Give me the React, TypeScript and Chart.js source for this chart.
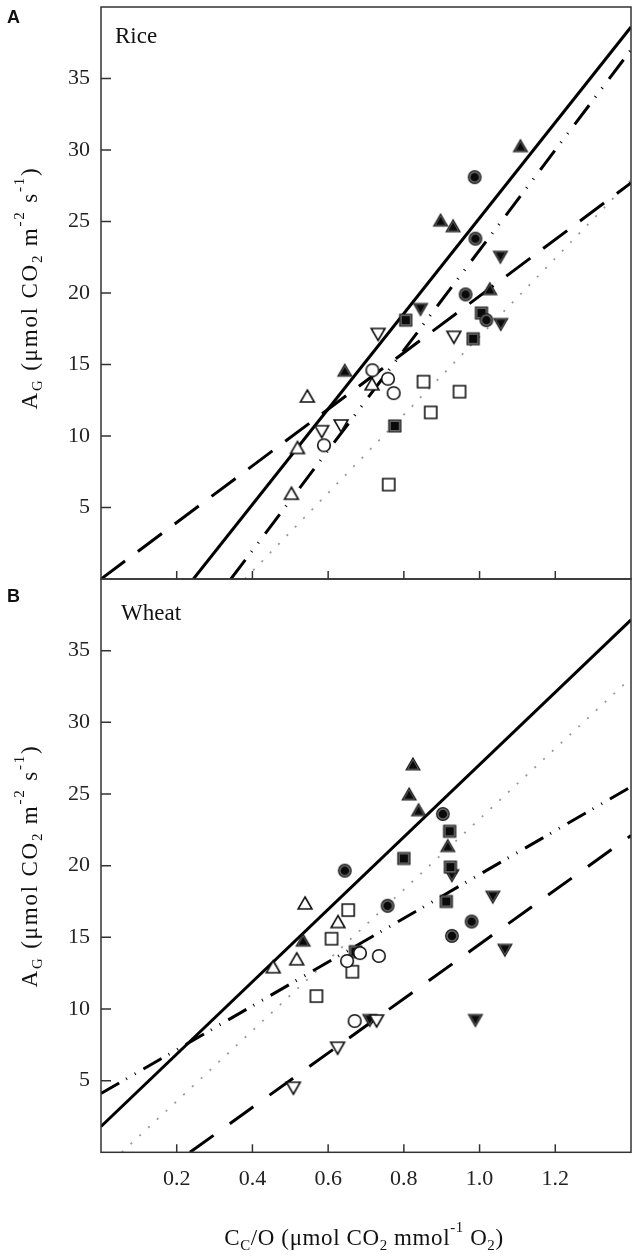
import React, { useEffect, useRef } from 'react';
import { Chart, registerables } from 'chart.js';

Chart.register(...registerables);

type P = [number, number];

// ---- axis ticks ----
const xTicks = [0.2, 0.4, 0.6, 0.8, 1.0, 1.2];
const yTicks = [5, 10, 15, 20, 25, 30, 35];

// ---- Rice (panel A) ----
const riceOpenUp: P[] = [[0.545, 12.8], [0.519, 9.2], [0.503, 6.0], [0.716, 13.65]];
const riceFilledUp: P[] = [[1.108, 30.3], [0.897, 25.1], [0.93, 24.7], [1.027, 20.3], [0.644, 14.6]];
const riceOpenCircle: P[] = [[0.717, 14.6], [0.758, 14.0], [0.773, 13.0], [0.589, 9.35]];
const riceFilledCircle: P[] = [[0.987, 28.1], [0.989, 23.8], [0.963, 19.9], [1.018, 18.1]];
const riceOpenSquare: P[] = [[0.852, 13.8], [0.947, 13.1], [0.871, 11.65], [0.76, 6.6]];
const riceFilledSquare: P[] = [[0.805, 18.1], [1.005, 18.6], [0.983, 16.8], [0.776, 10.7]];
const riceOpenDown: P[] = [[0.732, 17.1], [0.932, 16.9], [0.583, 10.3], [0.634, 10.7]];
const riceFilledDown: P[] = [[0.844, 18.85], [1.055, 22.5], [1.056, 17.8]];

const riceSolid: P[] = [[0.244, 0], [1.4, 38.6]];
const riceDashDot: P[] = [[0.343, 0], [1.4, 37.0]];
const riceLongDash: P[] = [[0, 0], [1.4, 27.7]];
const riceDotted: P[] = [[0.38, 0], [1.4, 27.9]];

// ---- Wheat (panel B) ----
const wheatOpenUp: P[] = [[0.539, 17.4], [0.626, 16.1], [0.517, 13.5], [0.455, 12.95]];
const wheatFilledUp: P[] = [[0.824, 27.1], [0.814, 25.0], [0.839, 23.9], [0.916, 21.4], [0.534, 14.8]];
const wheatOpenCircle: P[] = [[0.65, 13.35], [0.684, 13.9], [0.734, 13.7], [0.67, 9.16]];
const wheatFilledCircle: P[] = [[0.903, 23.6], [0.644, 19.65], [0.757, 17.2], [0.979, 16.1], [0.927, 15.1]];
const wheatOpenSquare: P[] = [[0.653, 16.9], [0.609, 14.9], [0.664, 12.6], [0.569, 10.9]];
const wheatFilledSquare: P[] = [[0.921, 22.4], [0.8, 20.5], [0.923, 19.9], [0.912, 17.5], [0.672, 14.0]];
const wheatOpenDown: P[] = [[0.508, 4.47], [0.625, 7.26], [0.728, 9.16]];
const wheatFilledDown: P[] = [[0.927, 19.3], [1.035, 17.8], [1.067, 14.1], [0.71, 9.2], [0.989, 9.2]];

const wheatSolid: P[] = [[0, 1.8], [1.4, 37.15]];
const wheatDashDot: P[] = [[0, 4.1], [1.4, 25.5]];
const wheatLongDash: P[] = [[0.235, 0], [1.4, 22.1]];
const wheatDotted: P[] = [[0.055, 0], [1.4, 33.1]];

const SERIF = '"Liberation Serif", "Times New Roman", serif';

type Shape = 'up' | 'down' | 'circle' | 'square';

function marker(shape: Shape, filled: boolean): HTMLCanvasElement {
  const S = 18;
  const c = document.createElement('canvas');
  c.width = S;
  c.height = S;
  const g = c.getContext('2d')!;
  const m = S / 2;
  const path = (k: number) => {
    g.beginPath();
    if (shape === 'circle') {
      g.arc(m, m, 6.3 * k, 0, Math.PI * 2);
    } else if (shape === 'square') {
      g.rect(m - 6 * k, m - 6 * k, 12 * k, 12 * k);
    } else {
      const s = shape === 'up' ? 1 : -1;
      const cy = m + 2 * s;
      g.moveTo(m, cy - 8 * k * s);
      g.lineTo(m + 6.9 * k, cy + 4 * k * s);
      g.lineTo(m - 6.9 * k, cy + 4 * k * s);
      g.closePath();
    }
  };
  if (filled) {
    path(1);
    g.fillStyle = '#6e6e6e';
    g.fill();
    g.lineWidth = 1.2;
    g.strokeStyle = '#1a1a1a';
    g.stroke();
    path(0.68);
    g.fillStyle = '#0a0a0a';
    g.fill();
  } else {
    path(1);
    g.fillStyle = '#fff';
    g.fill();
    g.lineWidth = 1.6;
    g.strokeStyle = '#111';
    g.stroke();
  }
  return c;
}

const toXY = (arr: P[]) => arr.map(([x, y]) => ({ x, y }));

function pointSet(arr: P[], shape: Shape, filled: boolean) {
  return {
    data: toXY(arr),
    pointStyle: marker(shape, filled),
    pointRadius: 6,
    pointHoverRadius: 6,
    showLine: false,
    order: 0,
  };
}

function lineSet(arr: P[], dash: number[], color = '#000', width = 3) {
  return {
    data: toXY(arr),
    showLine: true,
    borderColor: color,
    borderWidth: width,
    borderDash: dash,
    borderCapStyle: 'butt',
    pointRadius: 0,
    pointHoverRadius: 0,
    order: 1,
  };
}

const framePlugin = {
  id: 'frame',
  afterDatasetsDraw(chart: any) {
    const { ctx, chartArea: a, scales } = chart;
    ctx.save();
    ctx.strokeStyle = '#333';
    ctx.lineWidth = 1.5;
    ctx.strokeRect(a.left, a.top, a.right - a.left, a.bottom - a.top);
    ctx.beginPath();
    xTicks.forEach((v) => {
      const px = scales.x.getPixelForValue(v);
      ctx.moveTo(px, a.bottom);
      ctx.lineTo(px, a.bottom - 8);
    });
    yTicks.forEach((v) => {
      const py = scales.y.getPixelForValue(v);
      ctx.moveTo(a.left, py);
      ctx.lineTo(a.left + 10, py);
    });
    ctx.stroke();
    ctx.restore();
  },
};

function buildConfig(datasets: any[], padTop: number, xHeight: number, showXLabels: boolean): any {
  return {
    type: 'scatter',
    data: { datasets },
    options: {
      responsive: false,
      animation: false,
      devicePixelRatio: 1,
      events: [],
      layout: { padding: { top: padTop, right: 6, bottom: 0, left: 0 } },
      plugins: { legend: { display: false }, tooltip: { enabled: false } },
      scales: {
        x: {
          type: 'linear',
          min: 0,
          max: 1.4,
          grid: { display: false, drawTicks: false, tickLength: 0 },
          border: { display: false },
          ticks: {
            display: showXLabels,
            padding: 14,
            autoSkip: false,
            maxRotation: 0,
            color: '#222',
            font: { family: SERIF, size: 22 },
            callback: (v: any) => Number(v).toFixed(1),
          },
          afterBuildTicks: (s: any) => {
            s.ticks = xTicks.map((v) => ({ value: v }));
          },
          afterFit: (s: any) => {
            s.height = xHeight;
            s.paddingLeft = 0;
            s.paddingRight = 0;
            s.paddingTop = 0;
            s.paddingBottom = 0;
          },
        },
        y: {
          type: 'linear',
          min: 0,
          max: 40,
          grid: { display: false, drawTicks: false, tickLength: 0 },
          border: { display: false },
          ticks: {
            padding: 11,
            color: '#222',
            font: { family: SERIF, size: 22 },
            callback: (v: any) => String(v),
          },
          afterBuildTicks: (s: any) => {
            s.ticks = yTicks.map((v) => ({ value: v }));
          },
          afterFit: (s: any) => {
            s.width = 101;
            s.paddingLeft = 0;
            s.paddingRight = 0;
            s.paddingTop = 0;
            s.paddingBottom = 0;
          },
        },
      },
    },
    plugins: [framePlugin],
  };
}

const Sub = ({ children }: { children: React.ReactNode }) => (
  <span style={{ fontSize: '0.65em', position: 'relative', top: '0.35em' }}>{children}</span>
);
const Sup = ({ children }: { children: React.ReactNode }) => (
  <span style={{ fontSize: '0.65em', position: 'relative', top: '-0.85em' }}>{children}</span>
);

const YTitle = ({ cy }: { cy: number }) => (
  <div
    style={{
      position: 'absolute',
      left: 29,
      top: cy,
      transform: 'translate(-50%, -50%) rotate(-90deg)',
      fontFamily: SERIF,
      fontSize: 23,
      lineHeight: 1,
      whiteSpace: 'nowrap',
      letterSpacing: 1.8,
      color: '#111',
    }}
  >
    A<Sub>G</Sub> (μmol CO<Sub>2</Sub> m<Sup>-2</Sup> s<Sup>-1</Sup>)
  </div>
);

export default function App() {
  const r1 = useRef<HTMLCanvasElement>(null);
  const r2 = useRef<HTMLCanvasElement>(null);

  useEffect(() => {
    const riceSets = [
      pointSet(riceOpenUp, 'up', false),
      pointSet(riceFilledUp, 'up', true),
      pointSet(riceOpenCircle, 'circle', false),
      pointSet(riceFilledCircle, 'circle', true),
      pointSet(riceOpenSquare, 'square', false),
      pointSet(riceFilledSquare, 'square', true),
      pointSet(riceOpenDown, 'down', false),
      pointSet(riceFilledDown, 'down', true),
      lineSet(riceSolid, []),
      lineSet(riceDashDot, [24, 10, 1, 10, 1, 11]),
      lineSet(riceLongDash, [30, 16]),
      lineSet(riceDotted, [2, 10], '#9a9a9a', 1.8),
    ];
    const wheatSets = [
      pointSet(wheatOpenUp, 'up', false),
      pointSet(wheatFilledUp, 'up', true),
      pointSet(wheatOpenCircle, 'circle', false),
      pointSet(wheatFilledCircle, 'circle', true),
      pointSet(wheatOpenSquare, 'square', false),
      pointSet(wheatFilledSquare, 'square', true),
      pointSet(wheatOpenDown, 'down', false),
      pointSet(wheatFilledDown, 'down', true),
      lineSet(wheatSolid, []),
      lineSet(wheatDashDot, [21, 8, 1, 9, 1, 9]),
      lineSet(wheatLongDash, [29, 20]),
      lineSet(wheatDotted, [2, 10], '#9a9a9a', 1.8),
    ];
    const c1 = new Chart(r1.current!, buildConfig(riceSets, 5, 11, false));
    const c2 = new Chart(r2.current!, buildConfig(wheatSets, 9, 107.7, true));
    return () => {
      c1.destroy();
      c2.destroy();
    };
  }, []);

  const label = (text: string, left: number, baseline: number, size: number, bold = false, sans = false) => (
    <div
      style={{
        position: 'absolute',
        left,
        top: baseline - (sans ? 0.8465 : 0.8375) * size,
        fontFamily: sans ? '"Liberation Sans", Arial, sans-serif' : SERIF,
        fontWeight: bold ? 'bold' : 'normal',
        fontSize: size,
        lineHeight: 1,
        whiteSpace: 'nowrap',
        color: '#111',
      }}
    >
      {text}
    </div>
  );

  return (
    <div style={{ position: 'absolute', left: 0, top: 0, width: 638, height: 1260, background: '#fff', overflow: 'hidden' }}>
      <canvas ref={r1} width={638} height={590} style={{ position: 'absolute', left: 0, top: 0, width: 638, height: 590 }} />
      <canvas ref={r2} width={638} height={690} style={{ position: 'absolute', left: 0, top: 570, width: 638, height: 690 }} />
      {label('A', 7, 23, 18, true, true)}
      {label('B', 7, 602, 18, true, true)}
      {label('Rice', 115, 43, 23)}
      {label('Wheat', 121, 620, 23)}
      <YTitle cy={288} />
      <YTitle cy={866} />
      <div
        style={{
          position: 'absolute',
          left: 364,
          top: 1245 - 0.8375 * 23,
          transform: 'translateX(-50%)',
          fontFamily: SERIF,
          fontSize: 23,
          lineHeight: 1,
          whiteSpace: 'nowrap',
          letterSpacing: 0.6,
          color: '#111',
        }}
      >
        C<Sub>C</Sub>/O (μmol CO<Sub>2</Sub> mmol<Sup>-1</Sup> O<Sub>2</Sub>)
      </div>
    </div>
  );
}
